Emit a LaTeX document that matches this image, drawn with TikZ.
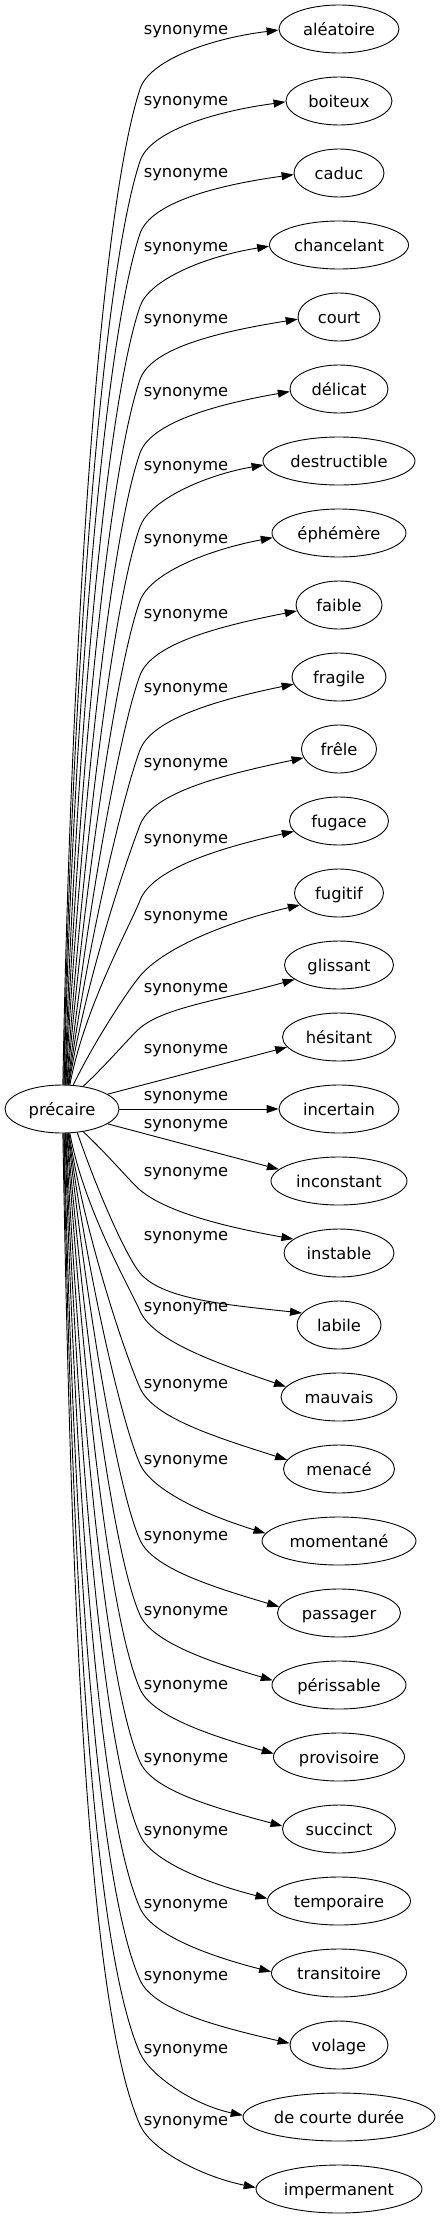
\documentclass[tikz,border=0pt]{standalone}
\usepackage{fontspec}
\setmainfont{DejaVu Sans}
\usetikzlibrary{arrows.meta,shapes.geometric}
\newcommand\wfont{\fontsize{16.3}{19}\selectfont}
\begin{document}
\begin{tikzpicture}[x=1pt,y=-1pt,
  word/.style={draw,ellipse,line width=0.9pt,inner sep=0pt,minimum height=48pt,font=\wfont,text height=12.4pt,text depth=0pt},
  lbl/.style={font=\wfont,inner sep=0pt,anchor=base},
  edge/.style={line width=0.9pt,-{Triangle[length=12pt,width=8pt]}}]
\useasboundingbox (0,0) rectangle (439,2219);
\node[word,minimum width=114pt] (p) at (62,1109) {précaire};
\foreach \i/\txt/\w/\yl in {0/aléatoire/120/32,1/boiteux/106/103,2/caduc/90/175,3/chancelant/139/249,4/court/82/321,5/délicat/98/394,6/destructible/152/468,7/éphémère/134/541,8/faible/86/616,9/fragile/94/690,10/frêle/75/765,11/fugace/99/841,12/fugitif/89/918,13/glissant/109/990,14/hésitant/113/1051,15/incertain/120/1098,16/inconstant/136/1126,17/instable/110/1174,18/labile/84/1238,19/mauvais/116/1309,20/menacé/111/1386,21/momentané/154/1462,22/passager/123/1538,23/périssable/134/1613,24/provisoire/131/1687,25/succinct/113/1760,26/temporaire/143/1833,27/transitoire/135/1906,28/volage/98/1978,29/de courte durée/192/2051,30/impermanent/166/2123}{
  \pgfmathsetmacro\qyt{29+72*\i}
  \node[word,minimum width=\w pt] (n\i) at (339,\qyt) {\txt};
  \node[lbl] (l\i) at (186,\yl+2.5) {synonyme};
  \pgfmathtruncatemacro\qm{min(\i,30-\i)}
  \ifnum\qm<14
    \pgfmathtruncatemacro\qs{(\i<15)?1:-1}
    \pgfmathsetmacro\qu{(\qm<12)?(1+0.6*\qm):((\qm==12)?((\qs<0)?15:11):21)}
    \pgfmathsetmacro\qb{(\qm<12)?((\qs<0)?(\qyt-\yl-2):(60+0.16*\qm*\qm)):((\qm==12)?((\qs<0)?52:83):63)}
    \pgfmathsetmacro\qts{(\qm<12)?(89-0.08*\qm*\qm):((\qm==12)?((\qs<0)?71:64):43)}
    \pgfmathsetmacro\qtb{(\qm<12)?((\qs<0)?66:(72-0.3*\qm)):((\qm==12)?50:40)}
    \pgfmathsetmacro\qte{(\qm<12)?((\qs<0)?(12+0.6*\qm):(7+0.5*\qm)):((\qm==12)?((\qs<0)?6:13):((\qs<0)?10:16))}
    \pgfmathsetmacro\qdl{1+13*(\qm/13)^2}
    \pgfmathsetmacro\qrx{\w/2}
    \pgfmathsetmacro\qcp{sqrt(1-(\qdl/24)^2)}
    \pgfmathsetmacro\qex{339-\qrx*\qcp}
    \pgfmathsetmacro\qey{\qyt+(\qs)*\qdl}
    \pgfmathtruncatemacro\qae{round(180+(\qs)*atan(\qdl/(\qrx*\qcp)))}
    \pgfmathsetmacro\qsq{sqrt(1-(\qu/57)^2)}
    \pgfmathsetmacro\qsx{62+\qu}
    \pgfmathsetmacro\qsy{1109-(\qs)*24*\qsq}
    \pgfmathsetmacro\qal{atan(24*\qsq/\qu)}
    \pgfmathtruncatemacro\qas{(\qs>0)?round(\qal):round(360-\qal)}
    \pgfmathsetmacro\qyb{\qyt+(\qs)*\qb}
    \pgfmathsetmacro\qh{100*sqrt(((140-\qsx)/100)^2+((\qyb-\qsy)/100)^2)}
    \pgfmathsetmacro\qg{100*sqrt(((\qex-140)/100)^2+((\qey-\qyb)/100)^2)}
    \pgfmathsetmacro\qax{\qsx+0.4*\qh*cos(\qts)}
    \pgfmathsetmacro\qay{\qsy-(\qs)*0.4*\qh*sin(\qts)}
    \pgfmathsetmacro\qbx{140-0.14*\qh*cos(\qtb)}
    \pgfmathsetmacro\qby{\qyb+(\qs)*0.14*\qh*sin(\qtb)}
    \pgfmathsetmacro\qcx{140+0.2*\qg*cos(\qtb)}
    \pgfmathsetmacro\qcy{\qyb-(\qs)*0.2*\qg*sin(\qtb)}
    \pgfmathsetmacro\qdx{\qex-0.5*(\qex-140)*cos(\qte)}
    \pgfmathsetmacro\qdy{\qey+(\qs)*0.5*(\qex-140)*sin(\qte)}
    \draw[edge] (p.\qas) .. controls (\qax,\qay) and (\qbx,\qby) .. (140,\qyb) .. controls (\qcx,\qcy) and (\qdx,\qdy) .. (n\i.\qae);
  \fi
}
\draw[edge] (p.18) -- (n14.191);
\draw[edge] (p.east) -- (n15.west);
\draw[edge] (p.342) -- (n16.169);
\end{tikzpicture}
\end{document}
